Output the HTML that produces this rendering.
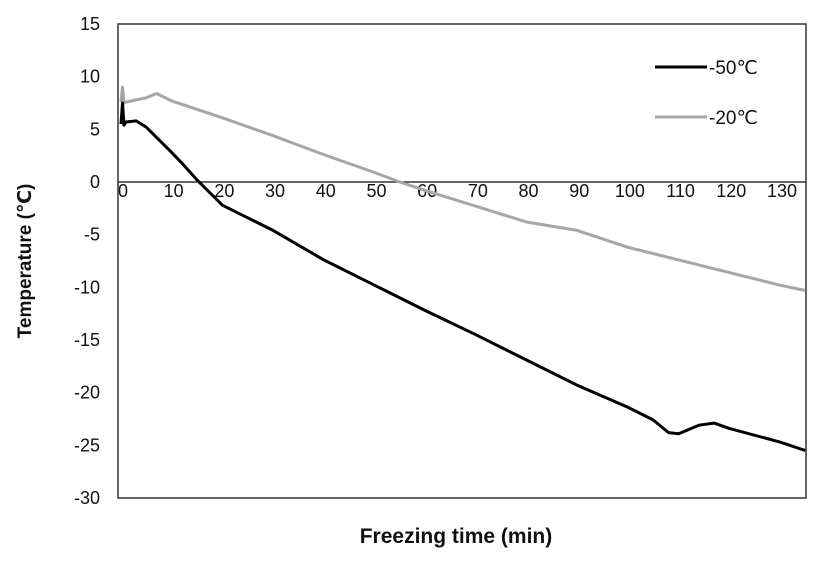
<!DOCTYPE html>
<html><head><meta charset="utf-8"><style>
body{margin:0;background:#fff;}
svg text{font-family:"Liberation Sans","DejaVu Sans",sans-serif;}
</style></head><body>
<svg id="chart" width="827" height="567" viewBox="0 0 827 567">
<g id="ticks"></g>
<rect x="118" y="24" width="688" height="474" fill="none" stroke="#333" stroke-width="1.5"/>
<g id="series"></g>
<text transform="translate(31,261) rotate(-90)" text-anchor="middle" font-size="19" font-weight="bold" fill="#111">Temperature (℃)</text>
<text x="456" y="543" text-anchor="middle" font-size="21" font-weight="bold" fill="#111">Freezing time (min)</text>
<g>
<line x1="655" y1="67" x2="707" y2="67" stroke="#000" stroke-width="3"/>
<text x="709" y="74" font-size="19" fill="#111">-50℃</text>
<line x1="655" y1="117" x2="707" y2="117" stroke="#a6a6a6" stroke-width="3"/>
<text x="709" y="124" font-size="19" fill="#111">-20℃</text>
</g>
</svg>
<script>
const yTicks=[15,10,5,0,-5,-10,-15,-20,-25,-30];
const xTicks=[0,10,20,30,40,50,60,70,80,90,100,110,120,130];
const timeBlack=[0,0.3,0.6,1,3,5,10,12,15,20,25,30,40,50,60,70,80,90,100,105,108,110,114,117,120,130,135];
const tempBlack=[5.5,7.5,5.4,5.7,5.8,5.2,2.8,1.8,0.2,-2.2,-3.4,-4.6,-7.4,-9.8,-12.2,-14.5,-16.9,-19.3,-21.4,-22.6,-23.8,-23.9,-23.1,-22.9,-23.4,-24.7,-25.5];
const timeGray=[0,0.3,0.6,1,5,7,10,20,30,40,50,55,60,70,80,90,100,110,120,130,135];
const tempGray=[7.6,9.0,7.5,7.6,8.0,8.4,7.7,6.1,4.4,2.6,0.9,0,-0.8,-2.3,-3.8,-4.6,-6.2,-7.4,-8.6,-9.8,-10.3];
const X=t=>121+t*(780-121)/130;
const Y=v=>182-v*10.53;
const NS="http://www.w3.org/2000/svg";
const tg=document.getElementById('ticks');
yTicks.forEach(v=>{const t=document.createElementNS(NS,'text');


t.setAttribute('x',100);t.setAttribute('y',Y(v)+6);t.setAttribute('text-anchor','end');t.setAttribute('font-size','18');t.setAttribute('fill','#111');t.textContent=v;tg.appendChild(t);});
xTicks.forEach(v=>{const t=document.createElementNS(NS,'text');


t.setAttribute('x',X(v)+2);t.setAttribute('y',197);t.setAttribute('text-anchor','middle');t.setAttribute('font-size','18');t.setAttribute('fill','#111');t.textContent=v;tg.appendChild(t);});
const sg=document.getElementById('series');
const zl=document.createElementNS(NS,'line');


zl.setAttribute('x1',118);zl.setAttribute('x2',806);zl.setAttribute('y1',Y(0));zl.setAttribute('y2',Y(0));zl.setAttribute('stroke','#333');zl.setAttribute('stroke-width','1.5');sg.appendChild(zl);
function line(ts,vs,color,w,name){const p=document.createElementNS(NS,'polyline');


p.setAttribute('points',ts.map((t,i)=>X(t).toFixed(1)+','+Y(vs[i]).toFixed(1)).join(' '));
p.setAttribute('fill','none');p.setAttribute('stroke',color);p.setAttribute('stroke-width',w);p.setAttribute('stroke-linejoin','round');sg.appendChild(p);}
line(timeGray,tempGray,'#a6a6a6',3,'series-minus20');
line(timeBlack,tempBlack,'#000',3,'series-minus50');
</script>
</body></html>
